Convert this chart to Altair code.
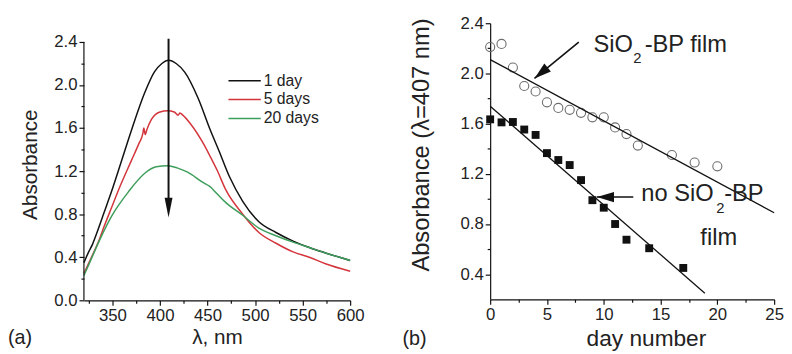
import altair as alt
import pandas as pd

# ---------------- Panel (a): spectra ----------------
wl_1day = [320, 325, 329, 335, 341, 349, 359, 370, 384, 394, 402, 409, 417, 426, 440,
           453, 462, 473, 487, 504, 522, 540, 557, 574, 600]
abs_1day = [0.35, 0.45, 0.52, 0.66, 0.81, 1.01, 1.28, 1.58, 1.93, 2.12, 2.20, 2.23, 2.20, 2.12, 1.88,
            1.58, 1.39, 1.15, 0.92, 0.73, 0.63, 0.55, 0.49, 0.44, 0.37]
wl_5days = [320, 329, 336, 341, 349, 359, 370, 378, 382, 383, 384.5, 386, 391, 400, 408, 415,
            419, 421, 424, 432, 446, 452, 460, 469, 487, 504, 522, 540, 557, 574, 600]
abs_5days = [0.25, 0.42, 0.56, 0.68, 0.86, 1.08, 1.30, 1.46, 1.55, 1.60, 1.54, 1.58, 1.68, 1.75, 1.76, 1.75,
             1.72, 1.74, 1.72, 1.64, 1.45, 1.35, 1.21, 1.03, 0.80, 0.63, 0.53, 0.45, 0.40, 0.34, 0.27]
wl_20days = [320, 329, 336, 349, 367, 384, 396, 408, 418, 429, 446, 452, 460, 469, 487, 504,
             522, 540, 557, 574, 600]
abs_20days = [0.23, 0.41, 0.55, 0.78, 1.01, 1.18, 1.24, 1.25, 1.23, 1.19, 1.09, 1.06, 0.99, 0.91, 0.79, 0.67,
              0.60, 0.54, 0.49, 0.44, 0.37]
series_names = ["1 day", "5 days", "20 days"]
series_colors = ["#111111", "#d4353c", "#3d9e5c"]

x_domain_a = [320, 600]
y_domain_a = [0, 2.574]          # plot area reaches a little above the 2.4 axis end
x_ticks_a = [350, 400, 450, 500, 550, 600]
x_minor_a = [325, 375, 425, 475, 525, 575]
y_ticks_a = [0.0, 0.4, 0.8, 1.2, 1.6, 2.0, 2.4]
y_minor_a = [0.2, 0.6, 1.0, 1.4, 1.8, 2.2]

arrow_a_x = [409]
arrow_a_top = [2.43]
arrow_a_end = [0.9]
arrow_a_tip = [0.77]

legend_y = [2.04, 1.865, 1.69]
legend_x0 = [472, 472, 472]
legend_x1 = [506, 506, 506]
legend_tx = [509, 509, 509]

# ---------------- Panel (b): decay ----------------
days_film = [0, 1, 2, 3, 4, 5, 6, 7, 8, 9, 10, 11, 12, 13, 16, 18, 20]
abs_film = [2.21, 2.235, 2.047, 1.90, 1.856, 1.77, 1.725, 1.71, 1.686, 1.65, 1.65, 1.57, 1.517, 1.425,
            1.35, 1.29, 1.26]
days_nofilm = [0, 1, 2, 3, 4, 5, 6, 7, 8, 9, 10, 11, 12, 14, 17]
abs_nofilm = [1.634, 1.61, 1.613, 1.553, 1.51, 1.365, 1.31, 1.27, 1.15, 0.99, 0.93, 0.80, 0.675, 0.607, 0.45]
fit_film_days = [0, 25]
fit_film_abs = [2.11, 0.89]
fit_nofilm_days = [0, 18.9]
fit_nofilm_abs = [1.739, 0.249]

x_ticks_b = [0, 5, 10, 15, 20, 25]
x_minor_b = [2.5, 7.5, 12.5, 17.5, 22.5]
y_ticks_b = [0.4, 0.8, 1.2, 1.6, 2.0, 2.4]
y_minor_b = [0.6, 1.0, 1.4, 1.8, 2.2]

arrows_b_x0 = [7.8, 12.6]
arrows_b_y0 = [2.25, 1.015]
arrows_b_x1 = [3.9, 9.4]
arrows_b_y1 = [1.96, 1.015]
arrows_b_angle = [140.3, 180]

ann_text = ["SiO", "2", "-BP film", "no SiO", "2", "-BP", "film"]
ann_x = [9.1, 12.6, 13.6, 13.3, 19.9, 20.6, 18.5]
ann_y = [2.17, 2.08, 2.17, 0.98, 0.89, 0.98, 0.63]
ann_size = [24, 15, 24, 24, 15, 24, 24]

FONT = "Liberation Sans"
TXT = "#222222"
HEAD = "M0,0 L-2,-0.6 L-2,0.6 Z"
HEAD_THIN = "M0,0 L-2,-0.4 L-2,0.4 Z"

# ---------------- build panel (a) ----------------
rows = []
for name, xs, ys in [("1 day", wl_1day, abs_1day), ("5 days", wl_5days, abs_5days),
                     ("20 days", wl_20days, abs_20days)]:
    for i, (a, b) in enumerate(zip(xs, ys)):
        rows.append({"series": name, "wl": a, "A": b, "order": i})
spec_df = pd.DataFrame(rows)

xa = alt.Scale(domain=x_domain_a, nice=False, zero=False)
ya = alt.Scale(domain=y_domain_a, nice=False, zero=False)
col = alt.Scale(domain=series_names, range=series_colors)

major_x_a = alt.Axis(values=x_ticks_a, title="λ, nm", format="d", tickSize=5,
                     titleY=27, titleBaseline="top")
major_y_a = alt.Axis(values=y_ticks_a, title="Absorbance", format=".1f", tickSize=5, domain=False,
                     titleX=-44, titleY=143)
minor_x_a = alt.Axis(values=x_minor_a, labels=False, domain=False, title=None, tickSize=3, orient="bottom")
minor_y_a = alt.Axis(values=y_minor_a, labels=False, domain=False, title=None, tickSize=3, orient="left")

curves = alt.Chart(spec_df).mark_line(strokeWidth=1.5, interpolate="monotone").encode(
    x=alt.X("wl:Q", scale=xa, axis=major_x_a),
    y=alt.Y("A:Q", scale=ya, axis=major_y_a),
    color=alt.Color("series:N", scale=col, legend=None),
    detail="series:N",
    order="order:Q",
)

# y-axis line of panel (a): from the first to the last y tick
axis_line_a = alt.Chart(pd.DataFrame({"x": [x_domain_a[0]], "y0": [y_ticks_a[0]],
                                      "y1": [y_ticks_a[-1]]})).mark_rule(
    color="#111", strokeWidth=1.2).encode(
    x=alt.X("x:Q", scale=xa, axis=None), y=alt.Y("y0:Q", scale=ya, axis=None), y2="y1:Q")

arr_a_df = pd.DataFrame({"x": arrow_a_x, "top": arrow_a_top, "end": arrow_a_end, "tip": arrow_a_tip})
arrow_a_line = alt.Chart(arr_a_df).mark_rule(color="#111", strokeWidth=2).encode(
    x=alt.X("x:Q", scale=xa, axis=minor_x_a),
    y=alt.Y("top:Q", scale=ya, axis=minor_y_a),
    y2="end:Q",
)
arrow_a_head = alt.Chart(arr_a_df).mark_point(shape=HEAD_THIN, filled=True, color="#111",
                                               size=400, angle=90, opacity=1).encode(
    x=alt.X("x:Q", scale=xa, axis=None),
    y=alt.Y("tip:Q", scale=ya, axis=None),
)

leg_df = pd.DataFrame({"series": series_names, "y": legend_y, "x0": legend_x0,
                       "x1": legend_x1, "tx": legend_tx})
leg_lines = alt.Chart(leg_df).mark_rule(strokeWidth=1.5).encode(
    x=alt.X("x0:Q", scale=xa, axis=None), x2="x1:Q",
    y=alt.Y("y:Q", scale=ya, axis=None),
    color=alt.Color("series:N", scale=col, legend=None),
)
leg_text = alt.Chart(leg_df).mark_text(align="left", baseline="middle", font=FONT, fontSize=16,
                                       color=TXT).encode(
    x=alt.X("tx:Q", scale=xa, axis=None),
    y=alt.Y("y:Q", scale=ya, axis=None),
    text="series:N",
)
lab_a = alt.Chart(pd.DataFrame({"t": ["(a)"]})).mark_text(
    align="left", baseline="alphabetic", font=FONT, fontSize=20, color=TXT).encode(
    x=alt.value(-77), y=alt.value(325), text="t:N")

panel_a = alt.layer(curves, axis_line_a, arrow_a_line, arrow_a_head, leg_lines, leg_text,
                    lab_a).resolve_axis(x="independent", y="independent").properties(width=270, height=281)

# ---------------- build panel (b) ----------------
xb = alt.Scale(domain=[0, 25], nice=False, zero=False)
yb = alt.Scale(domain=[0.2, 2.4], nice=False, zero=False)

major_x_b = alt.Axis(values=x_ticks_b, title="day number", format="d", tickSize=5,
                     titleY=29, titleX=158, titleBaseline="top", titleFontSize=23)
major_y_b = alt.Axis(values=y_ticks_b, title="Absorbance (λ=407 nm)", format=".1f", tickSize=5,
                     titleX=-58, titleY=123, titleFontSize=24)
minor_x_b = alt.Axis(values=x_minor_b, labels=False, domain=False, title=None, tickSize=3, orient="bottom")
minor_y_b = alt.Axis(values=y_minor_b, labels=False, domain=False, title=None, tickSize=3, orient="left")

film_df = pd.DataFrame({"d": days_film, "A": abs_film})
nofilm_df = pd.DataFrame({"d": days_nofilm, "A": abs_nofilm})
fit1_df = pd.DataFrame({"d": fit_film_days, "A": fit_film_abs})
fit2_df = pd.DataFrame({"d": fit_nofilm_days, "A": fit_nofilm_abs})

circles = alt.Chart(film_df).mark_point(shape="circle", filled=False, color="#6d6d6d",
                                        size=85, strokeWidth=1.1, opacity=1).encode(
    x=alt.X("d:Q", scale=xb, axis=major_x_b),
    y=alt.Y("A:Q", scale=yb, axis=major_y_b),
)
squares = alt.Chart(nofilm_df).mark_point(shape="square", filled=True, color="#111",
                                          size=64, opacity=1).encode(
    x=alt.X("d:Q", scale=xb, axis=minor_x_b),
    y=alt.Y("A:Q", scale=yb, axis=minor_y_b),
)
fit1 = alt.Chart(fit1_df).mark_line(color="#111", strokeWidth=1.3).encode(
    x=alt.X("d:Q", scale=xb, axis=None), y=alt.Y("A:Q", scale=yb, axis=None))
fit2 = alt.Chart(fit2_df).mark_line(color="#111", strokeWidth=1.3).encode(
    x=alt.X("d:Q", scale=xb, axis=None), y=alt.Y("A:Q", scale=yb, axis=None))

arr_b_df = pd.DataFrame({"x0": arrows_b_x0, "y0": arrows_b_y0, "x1": arrows_b_x1,
                         "y1": arrows_b_y1, "ang": arrows_b_angle})
arr_b_lines = alt.Chart(arr_b_df).mark_rule(color="#111", strokeWidth=1.6).encode(
    x=alt.X("x0:Q", scale=xb, axis=None), y=alt.Y("y0:Q", scale=yb, axis=None),
    x2="x1:Q", y2="y1:Q")
arr_b_heads = alt.Chart(arr_b_df).mark_point(shape=HEAD, filled=True, color="#111",
                                             size=300, opacity=1).encode(
    x=alt.X("x1:Q", scale=xb, axis=None), y=alt.Y("y1:Q", scale=yb, axis=None),
    angle=alt.Angle("ang:Q", scale=None))

ann_df = pd.DataFrame({"t": ann_text, "x": ann_x, "y": ann_y, "s": ann_size})
ann = alt.Chart(ann_df).mark_text(align="left", baseline="alphabetic", font=FONT, color=TXT).encode(
    x=alt.X("x:Q", scale=xb, axis=None), y=alt.Y("y:Q", scale=yb, axis=None),
    text="t:N", size=alt.Size("s:Q", scale=None))
lab_b = alt.Chart(pd.DataFrame({"t": ["(b)"]})).mark_text(
    align="left", baseline="alphabetic", font=FONT, fontSize=20, color=TXT).encode(
    x=alt.value(-89), y=alt.value(326), text="t:N")

panel_b = alt.layer(circles, squares, fit1, fit2, arr_b_lines, arr_b_heads, ann, lab_b).resolve_axis(
    x="independent", y="independent").properties(width=288, height=280)

chart = alt.hconcat(panel_a, panel_b, spacing=38).properties(
    padding={"left": 0, "top": 4, "right": 0, "bottom": 0}, background="white"
).configure_view(stroke=None).configure_axis(
    grid=False, domainColor="#111", tickColor="#111", domainWidth=1.2, tickWidth=1.2,
    labelFont=FONT, labelFontSize=17, labelColor=TXT, labelPadding=2, labelFlush=False,
    titleFont=FONT, titleFontSize=21, titleColor=TXT, titleFontWeight="normal",
)

chart.save("out.html", embed_options={"renderer": "svg", "actions": False})
